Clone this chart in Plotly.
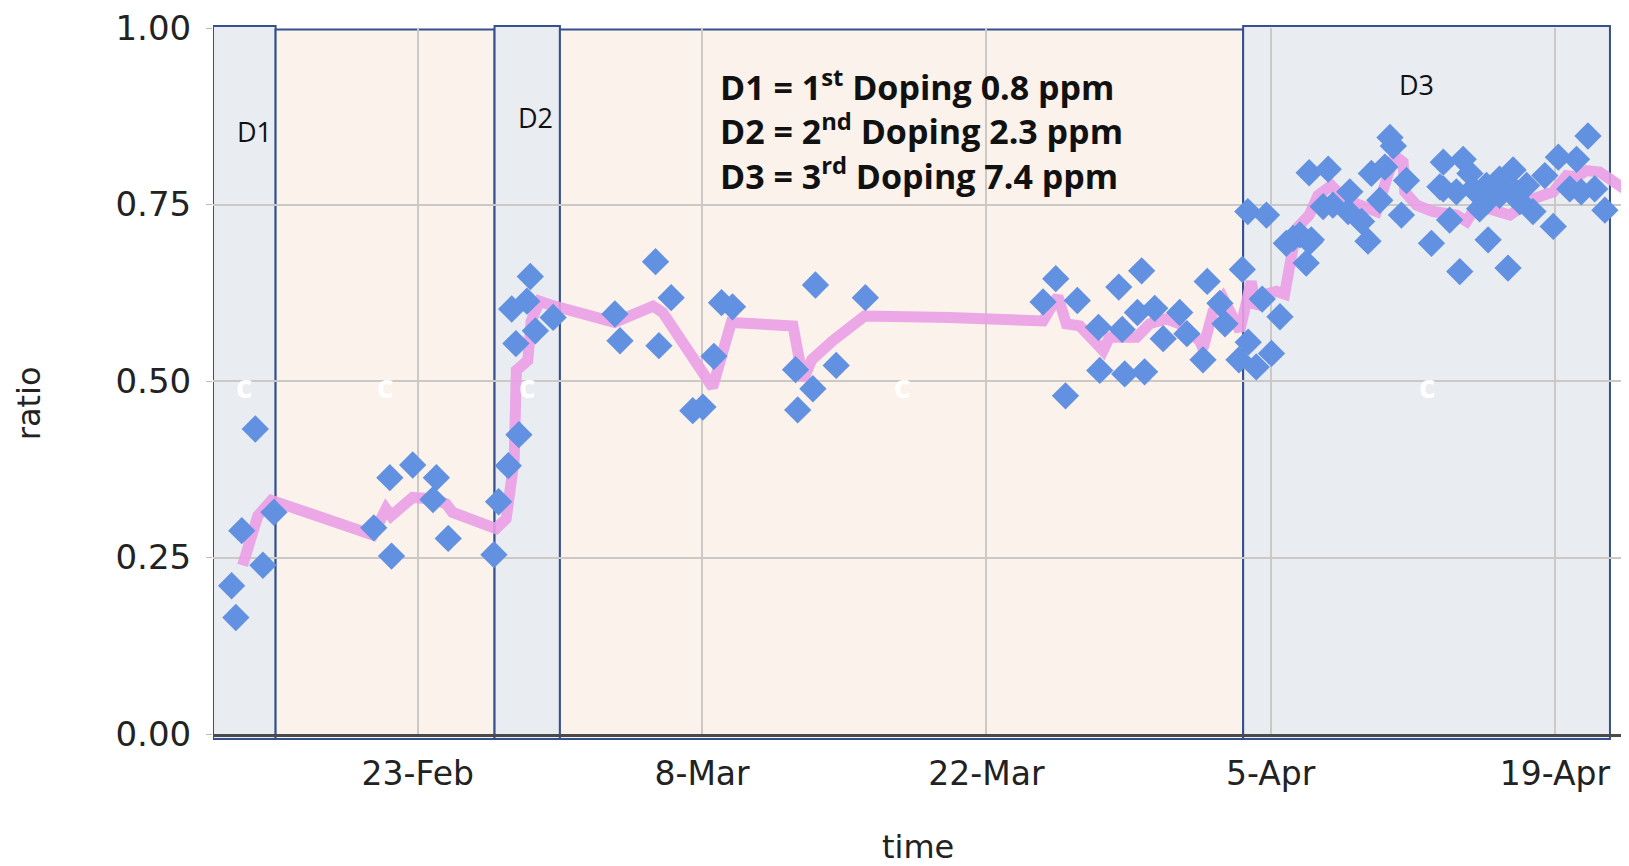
import pandas as pd
import plotly.graph_objects as go

# scatter readings (time, ratio)
point_time = [
    "2020-02-13 20:00", "2020-02-14 01:00", "2020-02-14 08:00", "2020-02-15 00:00", "2020-02-15 09:00",
    "2020-02-15 22:00", "2020-02-20 20:00", "2020-02-21 17:00", "2020-02-21 15:00", "2020-02-22 18:00",
    "2020-02-23 22:00", "2020-02-23 18:00", "2020-02-24 12:00", "2020-02-26 18:00", "2020-02-26 23:30",
    "2020-02-27 11:00", "2020-02-27 23:30", "2020-02-27 20:00", "2020-02-27 15:00", "2020-02-28 09:00",
    "2020-02-28 13:00", "2020-02-28 19:00", "2020-02-29 16:00", "2020-03-03 17:00", "2020-03-03 23:00",
    "2020-03-05 17:00", "2020-03-06 11:30", "2020-03-05 21:00", "2020-03-07 13:00", "2020-03-08 01:00",
    "2020-03-08 14:00", "2020-03-08 23:00", "2020-03-09 12:00", "2020-03-12 14:30", "2020-03-12 17:00",
    "2020-03-13 11:00", "2020-03-13 14:00", "2020-03-14 14:30", "2020-03-16 01:00", "2020-03-24 19:00",
    "2020-03-25 10:00", "2020-03-26 11:30", "2020-03-25 21:30", "2020-03-27 12:30", "2020-03-27 14:00",
    "2020-03-28 12:30", "2020-03-28 16:30", "2020-03-28 19:30", "2020-03-29 15:30", "2020-03-29 19:00",
    "2020-03-29 10:30", "2020-03-30 07:00", "2020-03-30 17:00", "2020-03-31 12:30", "2020-03-31 21:00",
    "2020-04-01 16:00", "2020-04-01 21:00", "2020-04-02 12:00", "2020-04-02 18:00", "2020-04-03 14:30",
    "2020-04-03 10:30", "2020-04-03 21:30", "2020-04-04 07:00", "2020-04-05 01:00", "2020-04-04 14:00",
    "2020-04-05 11:00", "2020-04-03 21:00", "2020-04-04 19:00", "2020-04-05 18:30", "2020-04-06 10:30",
    "2020-04-06 18:00", "2020-04-06 21:30", "2020-04-06 02:30", "2020-04-06 22:00", "2020-04-07 00:00",
    "2020-04-07 20:00", "2020-04-07 14:00", "2020-04-08 01:30", "2020-04-08 21:30", "2020-04-08 19:30",
    "2020-04-09 11:30", "2020-04-09 19:00", "2020-04-09 23:00", "2020-04-10 15:00", "2020-04-10 09:00",
    "2020-04-10 21:00", "2020-04-11 01:00", "2020-04-11 16:30", "2020-04-11 10:30", "2020-04-12 22:00",
    "2020-04-13 12:00", "2020-04-13 08:00", "2020-04-13 19:30", "2020-04-14 07:30", "2020-04-14 11:30",
    "2020-04-14 19:30", "2020-04-14 23:00", "2020-04-15 15:00", "2020-04-15 17:00", "2020-04-16 06:30",
    "2020-04-16 16:30", "2020-04-16 22:30", "2020-04-16 22:30", "2020-04-17 14:30", "2020-04-17 22:00",
    "2020-04-18 12:00", "2020-04-18 22:00", "2020-04-19 04:00", "2020-04-19 17:30", "2020-04-20 01:30",
    "2020-04-20 07:00", "2020-04-20 15:00", "2020-04-20 23:00", "2020-04-21 11:00", "2020-04-15 15:00",
    "2020-04-16 06:30", "2020-04-17 06:30", "2020-04-14 03:30", "2020-04-13 12:00", "2020-04-15 07:00",
]
point_ratio = [
    0.210, 0.165, 0.288, 0.432, 0.239,
    0.314, 0.292, 0.252, 0.363, 0.381,
    0.363, 0.332, 0.277, 0.254, 0.329,
    0.380, 0.424, 0.553, 0.602, 0.613,
    0.648, 0.571, 0.590, 0.595, 0.557,
    0.669, 0.618, 0.550, 0.458, 0.463,
    0.535, 0.611, 0.605, 0.516, 0.459,
    0.489, 0.636, 0.522, 0.618, 0.612,
    0.645, 0.614, 0.479, 0.576, 0.515,
    0.633, 0.573, 0.510, 0.656, 0.513,
    0.597, 0.603, 0.560, 0.597, 0.567,
    0.530, 0.641, 0.610, 0.581, 0.658,
    0.530, 0.555, 0.520, 0.539, 0.616,
    0.591, 0.740, 0.735, 0.695, 0.707,
    0.667, 0.795, 0.702, 0.697, 0.700,
    0.800, 0.747, 0.749, 0.768, 0.740,
    0.726, 0.698, 0.794, 0.803, 0.756,
    0.845, 0.833, 0.784, 0.735, 0.695,
    0.810, 0.775, 0.728, 0.655, 0.814,
    0.794, 0.772, 0.754, 0.700, 0.786,
    0.660, 0.799, 0.772, 0.777, 0.740,
    0.791, 0.719, 0.817, 0.772, 0.814,
    0.768, 0.847, 0.772, 0.742, 0.777,
    0.763, 0.754, 0.768, 0.772, 0.744,
]

# smoothed trend (pink line)
trend_time = [
    "2020-02-14 09:00", "2020-02-15 03:00", "2020-02-15 19:00", "2020-02-20 19:00", "2020-02-21 10:30",
    "2020-02-21 16:30", "2020-02-22 18:00", "2020-02-23 18:00", "2020-02-24 09:30", "2020-02-24 17:00",
    "2020-02-26 20:30", "2020-02-27 08:30", "2020-02-27 18:00", "2020-02-27 20:30", "2020-02-28 10:00",
    "2020-02-28 14:00", "2020-02-29 00:00", "2020-02-29 12:00", "2020-03-03 16:30", "2020-03-05 14:00",
    "2020-03-06 01:30", "2020-03-08 12:30", "2020-03-09 10:30", "2020-03-12 11:30", "2020-03-12 23:30",
    "2020-03-13 09:30", "2020-03-14 10:30", "2020-03-16 00:00", "2020-03-20 04:30", "2020-03-24 19:00",
    "2020-03-25 12:30", "2020-03-25 22:30", "2020-03-26 14:30", "2020-03-27 18:00", "2020-03-28 01:30",
    "2020-03-29 09:30", "2020-03-30 01:00", "2020-03-30 20:30", "2020-03-31 12:30", "2020-04-01 12:00",
    "2020-04-01 16:00", "2020-04-02 04:00", "2020-04-02 15:30", "2020-04-03 03:30", "2020-04-03 11:30",
    "2020-04-04 01:00", "2020-04-04 07:00", "2020-04-04 19:00", "2020-04-05 06:45", "2020-04-05 16:30",
    "2020-04-05 22:30", "2020-04-06 06:30", "2020-04-06 21:30", "2020-04-07 08:00", "2020-04-07 23:45",
    "2020-04-08 13:30", "2020-04-09 09:30", "2020-04-10 05:00", "2020-04-10 17:00", "2020-04-11 02:30",
    "2020-04-11 12:30", "2020-04-11 14:30", "2020-04-12 04:30", "2020-04-13 00:00", "2020-04-14 03:30",
    "2020-04-14 15:30", "2020-04-15 03:30", "2020-04-16 06:45", "2020-04-16 18:45", "2020-04-17 22:15",
    "2020-04-18 22:00", "2020-04-19 13:45", "2020-04-20 01:30", "2020-04-20 13:15", "2020-04-21 04:45",
    "2020-04-22 12:30",
]
trend_ratio = [
    0.239, 0.309, 0.331, 0.282, 0.319,
    0.309, 0.335, 0.333, 0.326, 0.314,
    0.291, 0.305, 0.389, 0.515, 0.529,
    0.585, 0.613, 0.608, 0.583, 0.606,
    0.597, 0.491, 0.583, 0.578, 0.501,
    0.530, 0.557, 0.592, 0.590, 0.585,
    0.620, 0.581, 0.578, 0.543, 0.562,
    0.562, 0.581, 0.588, 0.581, 0.557,
    0.546, 0.599, 0.618, 0.585, 0.571,
    0.641, 0.604, 0.623, 0.627, 0.623,
    0.674, 0.716, 0.735, 0.763, 0.777,
    0.760, 0.749, 0.740, 0.786, 0.819,
    0.810, 0.768, 0.749, 0.740, 0.735,
    0.726, 0.749, 0.740, 0.735, 0.758,
    0.768, 0.791, 0.789, 0.798, 0.796,
    0.770,
]

# doping periods (D) and in-between periods
region_start = ["2020-02-12 22:00", "2020-02-16 00:00", "2020-02-26 18:45", "2020-03-01 00:00", "2020-04-03 15:30"]
region_end = ["2020-02-16 00:00", "2020-02-26 18:45", "2020-03-01 00:00", "2020-04-03 15:30", "2020-04-21 17:00"]
region_dose = [True, False, True, False, True]

dose_label = ["D1", "D2", "D3"]
dose_label_time = ["2020-02-14 23:00", "2020-02-28 19:00", "2020-04-12 04:00"]
dose_label_ratio = [0.854, 0.873, 0.92]

legend_lines = [
    "D1 = 1<sup>st</sup> Doping 0.8 ppm",
    "D2 = 2<sup>nd</sup> Doping 2.3 ppm",
    "D3 = 3<sup>rd</sup> Doping 7.4 ppm",
]

fig = go.Figure()

fig.add_trace(go.Scatter(x=trend_time, y=trend_ratio, mode="lines",
                         line=dict(color="rgba(234,158,230,0.9)", width=11),
                         hoverinfo="skip", showlegend=False))
fig.add_trace(go.Scatter(x=point_time, y=point_ratio, mode="markers",
                         marker=dict(symbol="diamond", size=21, color="#6191e0", line=dict(width=0)),
                         showlegend=False))

for start, end, dose in zip(region_start, region_end, region_dose):
    fig.add_shape(type="rect", xref="x", yref="paper", x0=start, x1=end,
                  y0=-0.007, y1=1.003 if dose else 0.998,
                  fillcolor="#e9ecf1" if dose else "#faf2eb",
                  line=dict(color="#34508f", width=2), layer="below")
    mid = pd.Timestamp(start) + (pd.Timestamp(end) - pd.Timestamp(start)) / 2
    fig.add_annotation(x=mid, y=0.493, text="c", showarrow=False,
                       font=dict(family="Open Sans", size=32, color="white", weight="bold"))

for txt, t, r in zip(dose_label, dose_label_time, dose_label_ratio):
    fig.add_annotation(x=t, y=r, text=txt, showarrow=False,
                       font=dict(family="Open Sans", size=27, color="#111"))

fig.add_annotation(x="2020-03-08 19:00", y=0.956, xanchor="left", yanchor="top",
                   text="<br>".join(legend_lines), align="left", showarrow=False,
                   font=dict(family="Open Sans", size=34, color="#111", weight="bold"))

# axis titles
fig.add_annotation(xref="paper", yref="paper", x=0.498, y=-0.19, text="time",
                   showarrow=False, font=dict(size=32, color="#222"))
fig.add_annotation(xref="paper", yref="paper", x=-0.145, y=0.468, text="ratio",
                   textangle=-90, showarrow=False, font=dict(size=32, color="#222"))

# page body adds an 8px offset, so the figure is 8px smaller than the window
fig.update_layout(
    width=1621, height=858, autosize=False,
    margin=dict(l=205, r=0, t=13, b=132),
    plot_bgcolor="white", paper_bgcolor="white",
    font=dict(family="DejaVu Sans", color="#222"),
    xaxis=dict(range=["2020-02-12 22:00", "2020-04-22 15:30"], type="date",
               tick0="2020-02-23", dtick=14 * 86400000, tickformat="%-d-%b",
               showgrid=True, gridcolor="#cbc8c5", gridwidth=2,
               showline=True, linecolor="#4a4a4a", linewidth=3,
               tickfont=dict(size=33), ticklabelstandoff=8, ticklabeloverflow="allow"),
    yaxis=dict(range=[0, 1], tickvals=[0, 0.25, 0.5, 0.75, 1.0], tickformat=".2f",
               showgrid=True, gridcolor="#cbc8c5", gridwidth=2, zeroline=False,
               ticks="outside", ticklen=6, tickcolor="#bbbbbb",
               tickfont=dict(size=34), ticklabelstandoff=8, ticklabeloverflow="allow"),
)

fig.write_html("out.html")
